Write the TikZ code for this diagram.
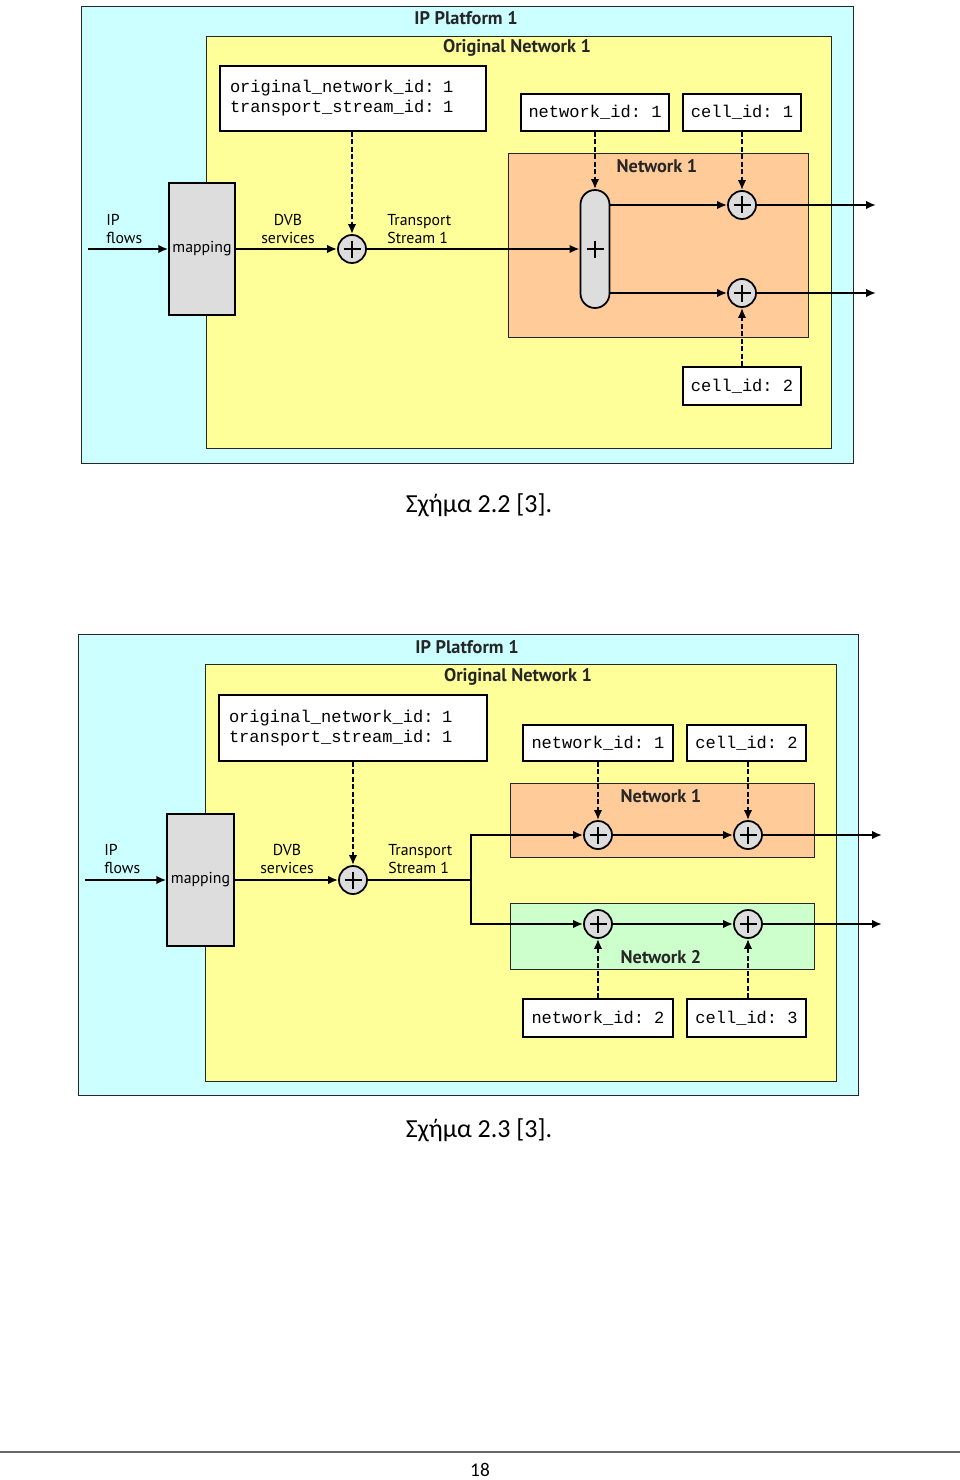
\documentclass[tikz,border=0pt]{standalone}
\usepackage{fontspec}
\setmainfont{Carlito}
\setmonofont{Liberation Mono}
\newfontfamily\labelfont{PT Sans}
\usetikzlibrary{arrows.meta}

\definecolor{platformcyan}{HTML}{CCFFFF}
\definecolor{netyellow}{HTML}{FFFF99}
\definecolor{netorange}{HTML}{FFCC99}
\definecolor{netgreen}{HTML}{CCFFCC}
\definecolor{blockgray}{HTML}{DDDDDD}

\tikzset{
  boxsize/.style 2 args={minimum width=#1*0.2mm, minimum height=#2*0.2mm},
  area/.style={draw=black!85, line width=0.8pt, inner sep=0pt, anchor=north west},
  boxtitle/.style={font=\labelfont\bfseries\fontsize{10.4}{12}\selectfont, text=black!85, inner sep=0pt},
  lbl/.style={font=\labelfont\fontsize{9}{10.2}\selectfont, inner sep=0pt},
  idbox/.style={draw, fill=white, line width=0.8pt, inner sep=0pt, font=\ttfamily\fontsize{9.7}{11.3}\selectfont},
  block/.style={draw, fill=blockgray, line width=0.8pt, inner sep=0pt},
  plussign/.style={path picture={\draw[line width=1.6pt] (path picture bounding box.center) +(-8.5,0) -- +(8.5,0) +(0,-8.5) -- +(0,8.5);}},
  adder/.style={block, circle, plussign, line width=1pt, minimum size=28*0.2mm},
  sig/.style={line width=1.2pt, -{Latex[length=2mm, width=1.7mm]}},
  idsig/.style={sig, line width=1.3pt, dash pattern=on 1mm off 0.5mm},
}

\begin{document}
\begin{tikzpicture}[x=0.2mm, y=-0.2mm]
\fill[white] (0,0) rectangle (960,1480);
\useasboundingbox (0,0) rectangle (960,1480);
% figure 2.2
\node[area, fill=platformcyan, boxsize={772}{457}] (plat1) at (81,6) {};
\node[area, fill=netyellow, boxsize={625}{412}] (orig1) at (206,36) {};
\node[area, fill=netorange, boxsize={300}{184}] (net11) at (508,153) {};
\node[boxtitle] (plat1t) at (466,18) {IP Platform 1};
\node[boxtitle] (orig1t) at (517,48) {Original Network 1};
\node[boxtitle] (net11t) at (657,166) {Network 1};
\node[idbox, boxsize={266}{65}, text width=49.2mm, align=left] (onid1) at (353,98.5)
    {original\_network\_id: 1\\transport\_stream\_id: 1};
\node[idbox, boxsize={148}{37}] (nid11) at (595,112.5) {network\_id: 1};
\node[idbox, boxsize={118}{37}] (cid11) at (742,112.5) {cell\_id: 1};
\node[idbox, boxsize={118}{38}] (cid12) at (742,386) {cell\_id: 2};
\node[block, lbl, boxsize={66}{132}] (map1) at (202,249) {mapping};
\node[adder] (add11) at (352,249) {};
\node[block, plussign, line width=1pt, rounded corners=2.9mm, boxsize={29}{118}] (split1) at (595,249) {};
\node[adder] (add12) at (742,205) {};
\node[adder] (add13) at (742,293) {};
\coordinate (in1) at (88,249);
\coordinate (out11) at (876,205);
\coordinate (out12) at (876,293);
\node[lbl, anchor=west, align=left] (ipf1) at (106,229) {IP\\flows};
\node[lbl, align=center] (dvb1) at (288,229) {DVB\\services};
\node[lbl, anchor=west, align=left] (ts1) at (387,229) {Transport\\Stream 1};
\draw[sig] (in1) -- (map1);
\draw[sig] (map1) -- (add11);
\draw[sig] (add11) -- (split1);
\draw[sig] (split1.east |- add12) -- (add12);
\draw[sig] (split1.east |- add13) -- (add13);
\draw[sig] (add12) -- (out11);
\draw[sig] (add13) -- (out12);
\draw[idsig] (onid1.south -| add11) -- (add11);
\draw[idsig] (nid11) -- (split1);
\draw[idsig] (cid11) -- (add12);
\draw[idsig] (cid12) -- (add13);
\node[font=\fontsize{14.8}{17}\selectfont] (cap1) at (479,505) {Σχήμα 2.2 [3].};

% figure 2.3
\node[area, fill=platformcyan, boxsize={780}{461}] (plat2) at (78,634) {};
\node[area, fill=netyellow, boxsize={631}{417}] (orig2) at (205,664) {};
\node[area, fill=netorange, boxsize={304}{74}] (net21) at (510,783) {};
\node[area, fill=netgreen, boxsize={304}{66}] (net22) at (510,903) {};
\node[boxtitle] (plat2t) at (467,647) {IP Platform 1};
\node[boxtitle] (orig2t) at (518,677) {Original Network 1};
\node[boxtitle] (net21t) at (661,796) {Network 1};
\node[boxtitle] (net22t) at (661,957) {Network 2};
\node[idbox, boxsize={268}{66}, text width=49.6mm, align=left] (onid2) at (353,728)
    {original\_network\_id: 1\\transport\_stream\_id: 1};
\node[idbox, boxsize={150}{36}] (nid21) at (598,743) {network\_id: 1};
\node[idbox, boxsize={119}{36}] (cid21) at (746.5,743) {cell\_id: 2};
\node[idbox, boxsize={150}{38}] (nid22) at (598,1018) {network\_id: 2};
\node[idbox, boxsize={119}{38}] (cid22) at (746.5,1018) {cell\_id: 3};
\node[block, lbl, boxsize={67}{132}] (map2) at (200.5,880) {mapping};
\node[adder] (add21) at (353,880) {};
\foreach \n/\x/\y in {22/598/835, 23/748/835, 24/598/924, 25/748/924}
    \node[adder] (add\n) at (\x,\y) {};
\coordinate (in2) at (85,880);
\coordinate (br2) at (471,880);
\coordinate (out21) at (882,835);
\coordinate (out22) at (882,924);
\node[lbl, anchor=west, align=left] (ipf2) at (104,859) {IP\\flows};
\node[lbl, align=center] (dvb2) at (287,859) {DVB\\services};
\node[lbl, anchor=west, align=left] (ts2) at (388,859) {Transport\\Stream 1};
\draw[sig] (in2) -- (map2);
\draw[sig] (map2) -- (add21);
\draw[line width=1.2pt] (add21) -- (br2);
\draw[sig] (br2) |- (add22);
\draw[sig] (br2) |- (add24);
\draw[sig] (add22) -- (add23);
\draw[sig] (add24) -- (add25);
\draw[sig] (add23) -- (out21);
\draw[sig] (add25) -- (out22);
\draw[idsig] (onid2) -- (add21);
\draw[idsig] (nid21) -- (add22);
\draw[idsig] (cid21.south -| add23) -- (add23);
\draw[idsig] (nid22) -- (add24);
\draw[idsig] (cid22.north -| add25) -- (add25);
\node[font=\fontsize{14.8}{17}\selectfont] (cap2) at (479,1130) {Σχήμα 2.3 [3].};

% page footer
\draw[black!60, line width=0.8pt] (0,1452) -- (960,1452);
\node[font=\fontsize{11}{13}\selectfont] (pageno) at (480,1470) {18};
\end{tikzpicture}
\end{document}
